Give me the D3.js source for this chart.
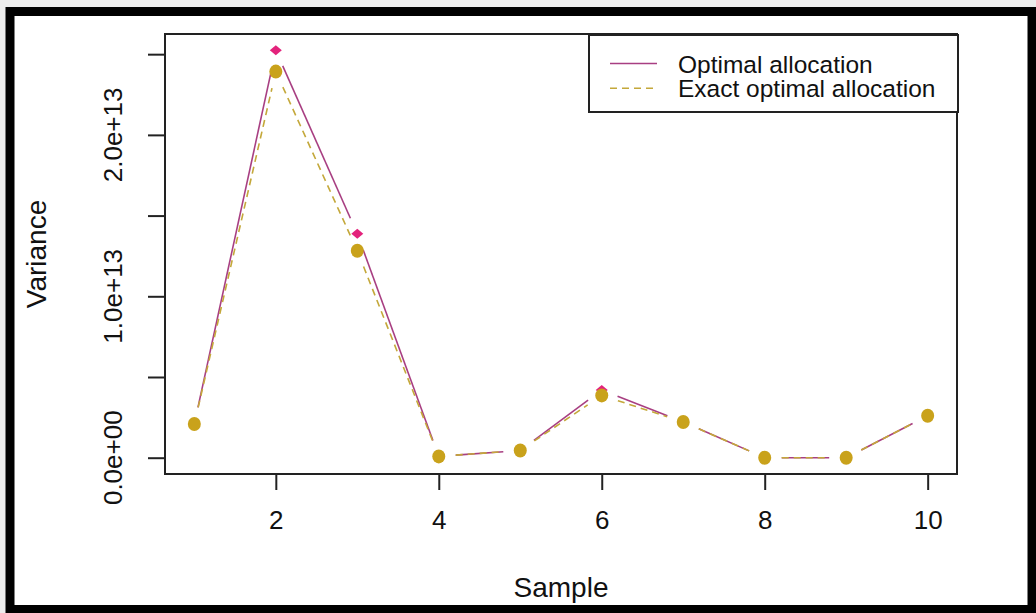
<!DOCTYPE html>
<html>
<head>
<meta charset="utf-8">
<style>
    body { margin: 0; background-color: #ececec; }
    svg { display: block; }
    text { font-family: "Liberation Sans", Arial, sans-serif; fill: #111; }
</style>
</head>
<body>
<script src="https://d3js.org/d3.v7.min.js"></script>
<script>
    // data
    var samples = [1, 2, 3, 4, 5, 6, 7, 8, 9, 10];
    var optimal = [2.09e12, 2.524e13, 1.387e13, 0.08e12, 0.45e12, 4.2e12, 2.21e12, 0, 0, 2.6e12];
    var exact = [2.09e12, 2.392e13, 1.282e13, 0.08e12, 0.45e12, 3.86e12, 2.21e12, 0, 0, 2.6e12];
    var xTicks = [2, 4, 6, 8, 10];
    var yTicks = [0, 5e12, 1e13, 1.5e13, 2e13, 2.5e13];
    var yLabelVals = [0, 1e13, 2e13];
    var yLabels = ["0.0e+00", "1.0e+13", "2.0e+13"];
    var legendNames = ["Optimal allocation", "Exact optimal allocation"];

    var W = 1036, H = 613;
    var box = { left: 165, right: 957, top: 34, bottom: 474 };

    var pinkPt = "#e3237c", pinkLine = "#a83f82";
    var goldPt = "#c9a21b", goldLine = "#c4a83a";

    var svg = d3.select("body").append("svg")
        .attr("width", W)
        .attr("height", H);

    // white page inside the black frame
    svg.append("rect")
        .attr("x", 10).attr("y", 11.5)
        .attr("width", 1022).attr("height", 598)
        .attr("fill", "white")
        .attr("stroke", "black")
        .attr("stroke-width", 9);

    // R style 4% padding on both axes
    var xr = d3.extent(samples), xp = (xr[1] - xr[0]) * 0.04;
    var allY = optimal.concat(exact);
    var yr = d3.extent(allY), yp = (yr[1] - yr[0]) * 0.04;

    var x = d3.scaleLinear()
        .domain([xr[0] - xp, xr[1] + xp])
        .range([box.left, box.right]);
    var y = d3.scaleLinear()
        .domain([yr[0] - yp, yr[1] + yp])
        .range([box.bottom, box.top]);

    // X axis
    var xAxis = svg.append("g")
        .attr("transform", "translate(0," + box.bottom + ")")
        .call(d3.axisBottom(x).tickValues(xTicks).tickSize(16).tickPadding(21).tickSizeOuter(0));
    xAxis.select(".domain").remove();
    xAxis.selectAll("line").attr("stroke", "#222").attr("stroke-width", 2);
    xAxis.selectAll("text").attr("font-size", "26px").attr("fill", "#111");

    // Y axis
    var yAxis = svg.append("g")
        .attr("transform", "translate(" + box.left + ",0)")
        .call(d3.axisLeft(y).tickValues(yTicks).tickSize(17).tickFormat(""));
    yAxis.select(".domain").remove();
    yAxis.selectAll("line").attr("stroke", "#222").attr("stroke-width", 2);

    svg.selectAll(".ylab")
        .data(yLabelVals)
        .enter()
        .append("text")
        .attr("class", "ylab")
        .attr("transform", function (d) { return "translate(122," + y(d) + ") rotate(-90)"; })
        .attr("text-anchor", "middle")
        .attr("font-size", "26px")
        .text(function (d, i) { return yLabels[i]; });

    // plot box
    svg.append("rect")
        .attr("x", box.left).attr("y", box.top)
        .attr("width", box.right - box.left)
        .attr("height", box.bottom - box.top)
        .attr("fill", "none")
        .attr("stroke", "#222")
        .attr("stroke-width", 2);

    // axis titles
    svg.append("text")
        .attr("x", (box.left + box.right) / 2)
        .attr("y", 597)
        .attr("text-anchor", "middle")
        .attr("font-size", "28px")
        .text("Sample");
    svg.append("text")
        .attr("transform", "translate(46," + (box.top + box.bottom) / 2 + ") rotate(-90)")
        .attr("text-anchor", "middle")
        .attr("font-size", "28px")
        .text("Variance");

    // type = "b": segments between points, with gaps round each point
    function drawSeries(vals, lineCol, dash, gap) {
        var segs = [];
        for (var i = 0; i < vals.length - 1; i++) {
            var x1 = x(samples[i]), y1 = y(vals[i]);
            var x2 = x(samples[i + 1]), y2 = y(vals[i + 1]);
            var len = Math.sqrt((x2 - x1) * (x2 - x1) + (y2 - y1) * (y2 - y1));
            if (len <= 2 * gap) continue;
            var ux = (x2 - x1) / len, uy = (y2 - y1) / len;
            segs.push([x1 + ux * gap, y1 + uy * gap, x2 - ux * gap, y2 - uy * gap]);
        }
        svg.append("g").selectAll("line")
            .data(segs)
            .enter()
            .append("line")
            .attr("x1", function (d) { return d[0]; })
            .attr("y1", function (d) { return d[1]; })
            .attr("x2", function (d) { return d[2]; })
            .attr("y2", function (d) { return d[3]; })
            .attr("stroke", lineCol)
            .attr("stroke-width", 1.6)
            .attr("stroke-dasharray", dash);
    }

    drawSeries(optimal, pinkLine, null, 17);
    svg.append("g").selectAll("path")
        .data(optimal)
        .enter()
        .append("path")
        .attr("d", "M0,-5L6,0L0,5L-6,0Z")
        .attr("transform", function (d, i) { return "translate(" + x(samples[i]) + "," + y(d) + ")"; })
        .attr("fill", pinkPt);

    drawSeries(exact, goldLine, "7,5", 17);
    svg.append("g").selectAll("ellipse")
        .data(exact)
        .enter()
        .append("ellipse")
        .attr("cx", function (d, i) { return x(samples[i]); })
        .attr("cy", function (d) { return y(d); })
        .attr("rx", 6.5)
        .attr("ry", 7)
        .attr("fill", goldPt);

    // legend
    var lg = svg.append("g");
    lg.append("rect")
        .attr("x", 589).attr("y", 35)
        .attr("width", 369).attr("height", 77)
        .attr("fill", "white")
        .attr("stroke", "#222")
        .attr("stroke-width", 2);
    var legCols = [pinkLine, goldLine];
    var legDash = [null, "7,5"];
    legendNames.forEach(function (name, i) {
        var ly = 63.5 + i * 24.8;
        lg.append("line")
            .attr("x1", 610).attr("x2", 657)
            .attr("y1", ly).attr("y2", ly)
            .attr("stroke", legCols[i])
            .attr("stroke-width", 1.6)
            .attr("stroke-dasharray", legDash[i]);
        lg.append("text")
            .attr("x", 678)
            .attr("y", ly + 9)
            .attr("font-size", "24.5px")
            .text(name);
    });
</script>
</body>
</html>
